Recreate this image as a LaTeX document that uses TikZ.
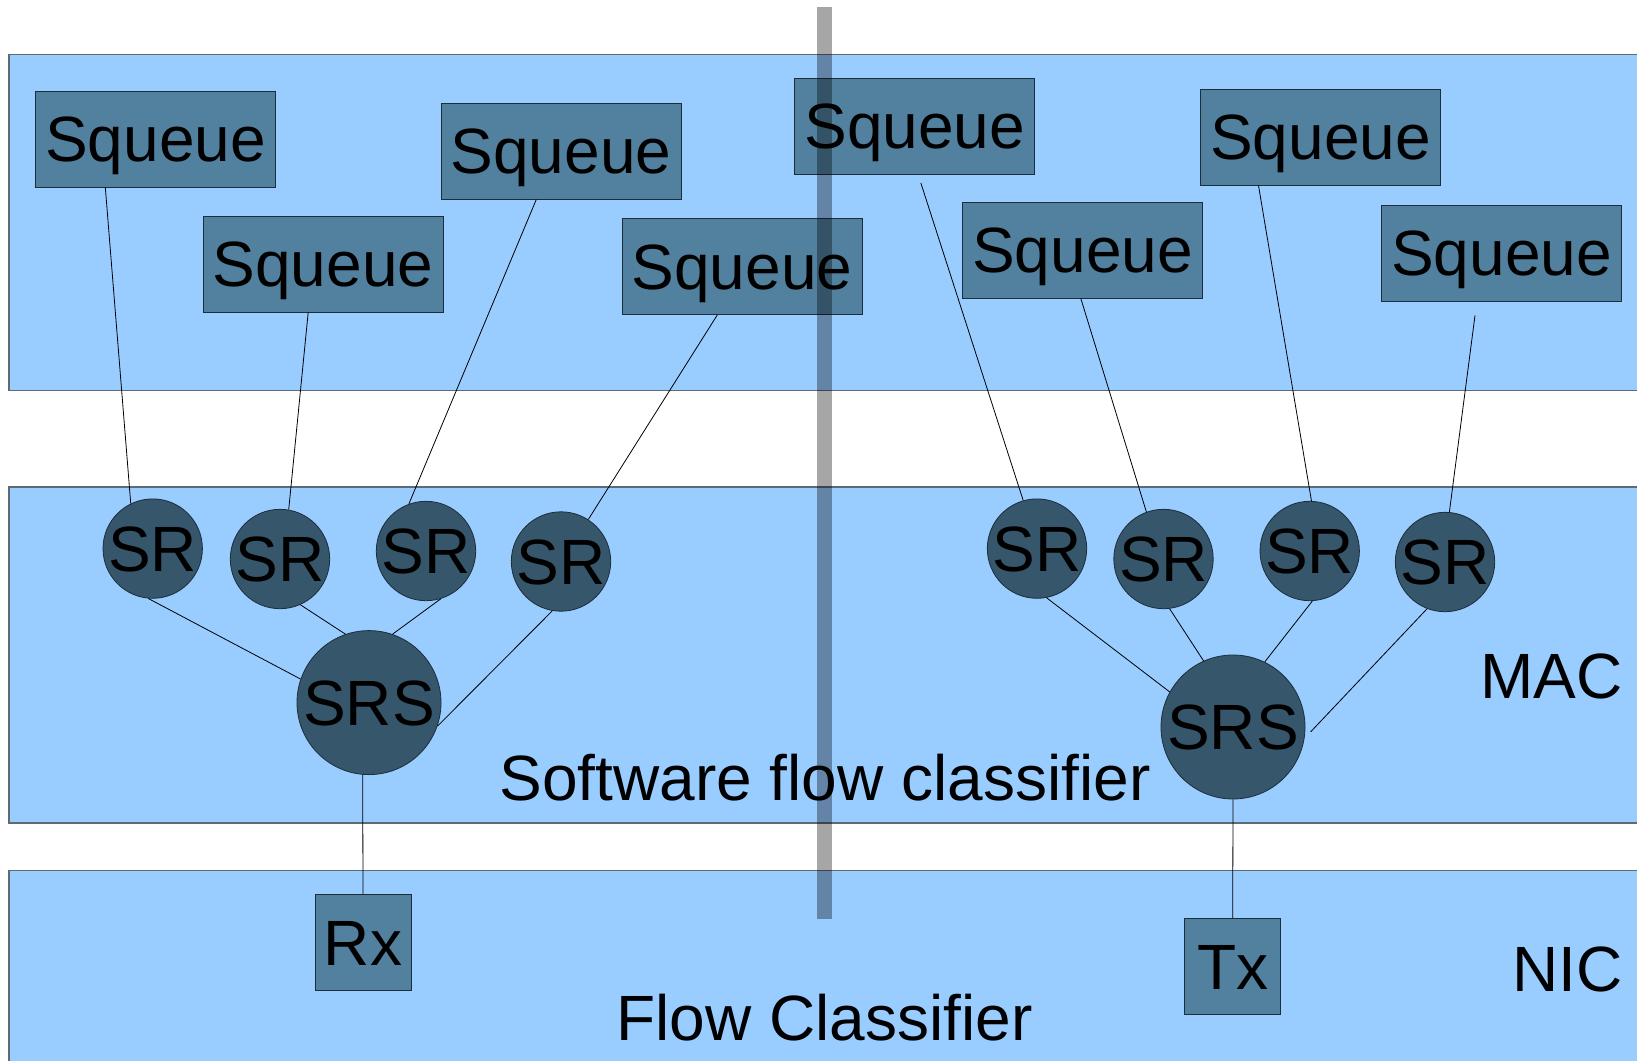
\documentclass[tikz,border=0pt]{standalone}
\usepackage{fontspec}
\setmainfont{Liberation Sans}
\definecolor{bandblue}{HTML}{99CCFF}
\definecolor{bandline}{HTML}{5F6A75}
\definecolor{queueblue}{HTML}{52809F}
\definecolor{ringblue}{HTML}{36566B}
\definecolor{edgedark}{HTML}{1E2D3A}

\begin{document}
\begin{tikzpicture}[x=1pt,y=-1pt,
  every node/.style={font=\fontsize{64}{70}\selectfont,inner sep=0pt,text height=45pt,text depth=0pt},
  layer/.style={fill=bandblue,draw=bandline,line width=1.6pt},
  squeue/.style={rectangle,fill=queueblue,draw=edgedark,line width=0.9pt,minimum width=240pt,minimum height=96pt},
  port/.style={rectangle,fill=queueblue,draw=edgedark,line width=0.9pt,minimum width=96pt,minimum height=96pt},
  ring/.style={circle,fill=ringblue,draw=edgedark,line width=0.8pt,minimum size=96pt},
  bigring/.style={circle,fill=ringblue,draw=edgedark,line width=0.8pt,minimum size=144pt},
  wire/.style={draw=black,line width=0.8pt}]
\useasboundingbox (0,0) rectangle (1637,1060);
\clip (0,0) rectangle (1637,1060);
%Layers
\draw[layer] (9,54.5) rectangle (1660,390.5);
\draw[layer] (9,487) rectangle (1660,823);
\draw[layer] (9,870.5) rectangle (1660,1080);
%Squeues
\node[squeue] (q1) at (155.5,139) {Squeue};
\node[squeue] (q2) at (323,264) {Squeue};
\node[squeue] (q3) at (561,151) {Squeue};
\node[squeue] (q4) at (742,266.5) {Squeue};
\node[squeue] (q5) at (914.7,126) {Squeue};
\node[squeue] (q6) at (1082.5,250) {Squeue};
\node[squeue] (q7) at (1320.5,137) {Squeue};
\node[squeue] (q8) at (1501.5,253) {Squeue};
%SR
\node[ring] (s1) at (152.7,548.6) {SR};
\node[ring] (s2) at (280,559) {SR};
\node[ring] (s3) at (426,551) {SR};
\node[ring] (s4) at (561,561.5) {SR};
\node[ring] (s5) at (1037,548.6) {SR};
\node[ring] (s6) at (1163.5,559) {SR};
\node[ring] (s7) at (1309.7,551) {SR};
\node[ring] (s8) at (1445,562) {SR};
%SRS
\node[bigring] (srsl) at (369,702.6) {SRS};
\node[bigring] (srsr) at (1233,727) {SRS};
%NIC ports
\node[port] (rx) at (363,942.7) {Rx};
\node[port] (tx) at (1232.7,966.8) {Tx};
%Labels
\node (swlabel) at (825,777.5) {Software flow classifier};
\node (fclabel) at (824.5,1017.5) {Flow Classifier};
\node[anchor=east] (maclabel) at (1623,675.5) {MAC};
\node[anchor=east] (niclabel) at (1623,969.3) {NIC};
%Queue to SR
\draw[wire] (q1.224) -- (s1.116);
\draw[wire] (q2.253) -- (s2.80);
\draw[wire] (q3.243) -- (s3.110);
\draw[wire] (q4.243) -- (s4.57);
\draw[wire,shorten <=9pt] (q5.274) -- (s5.106);
\draw[wire] (q6.268) -- (s6.110);
\draw[wire] (q7.218) -- (s7.88);
\draw[wire,shorten <=14pt] (q8.243) -- (s8.85);
%SR to SRS
\draw[wire] (s1.265) -- (srsl.161);
\draw[wire] (s2.294) -- (srsl.109);
\draw[wire] (s3.287) -- (srsl.71);
\draw[wire] (s4.260) -- (srsl.341);
\draw[wire] (s5.281) -- (srsr.151);
\draw[wire] (s6.277) -- (srsr.114);
\draw[wire] (s7.273) -- (srsr.64);
\draw[wire,shorten >=9pt] (s8.249) -- (srsr.351);
%SRS to NIC
\draw[wire] (rx.north) -- (srsl.265);
\draw[wire] (tx.north) -- (srsr.south);
%Divider
\fill[black,opacity=0.35] (817.4,6.7) rectangle (832.3,918.5);
\end{tikzpicture}
\end{document}
